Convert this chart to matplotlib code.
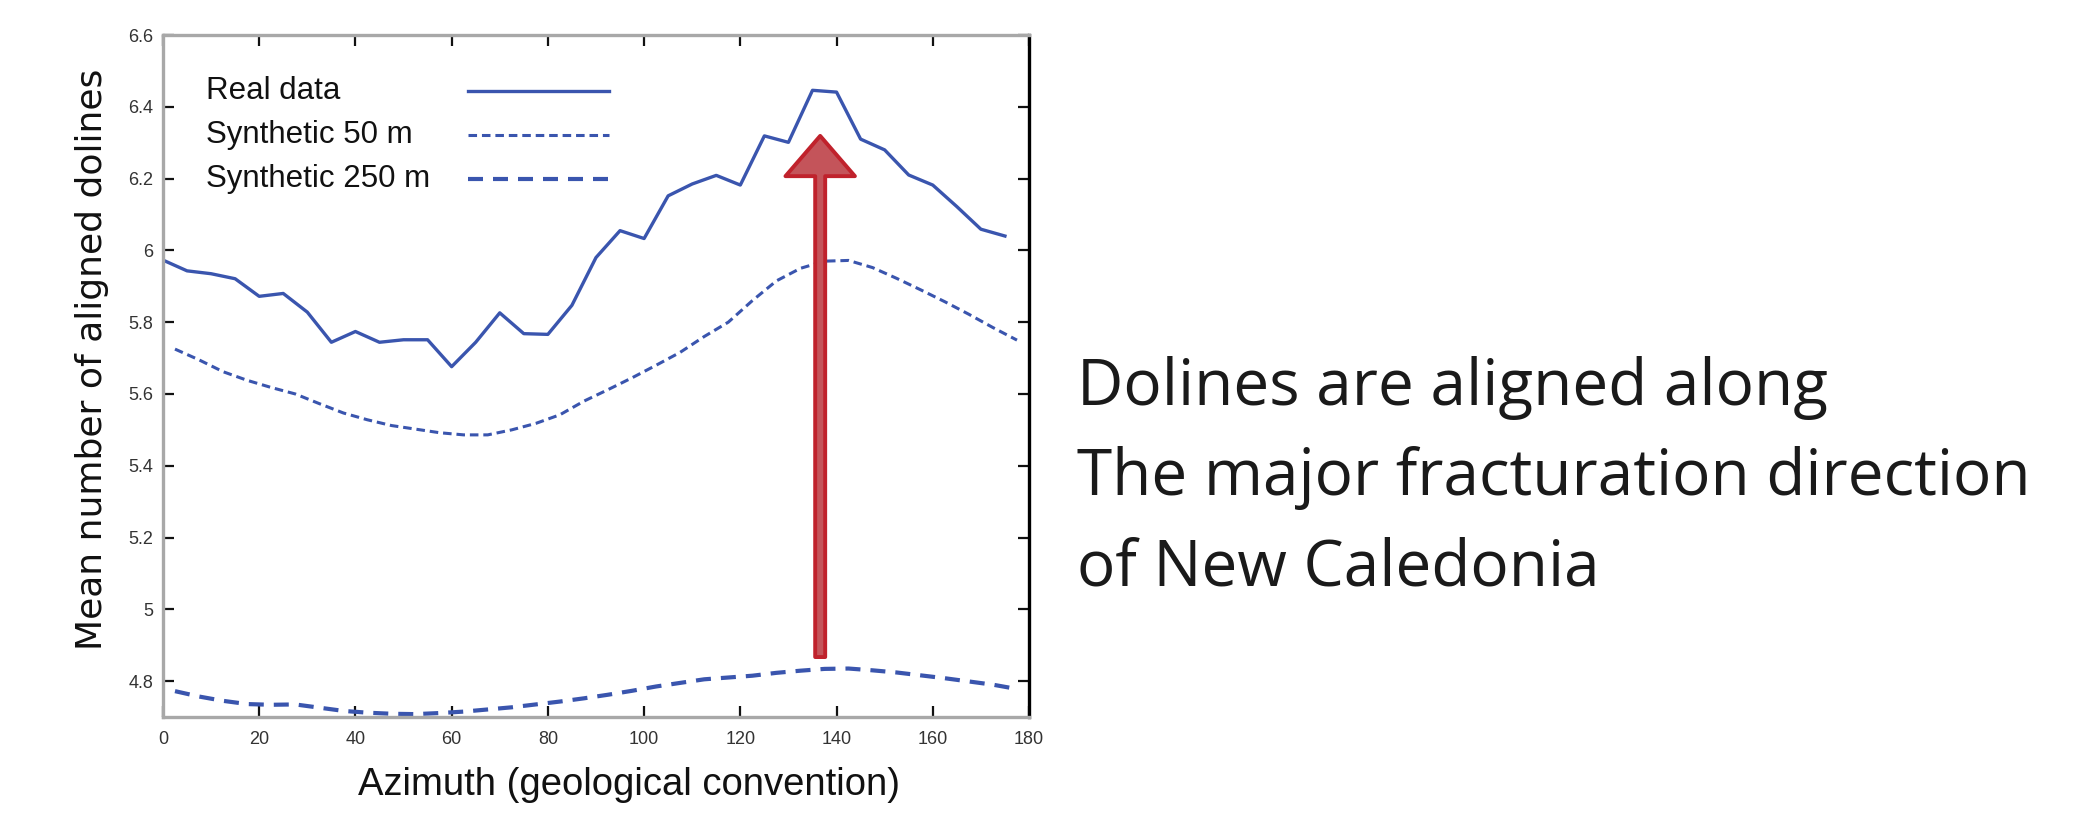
import matplotlib.pyplot as plt
import numpy as np

# ---- data ----
azimuth_real = [0, 5, 10, 15, 20, 25, 30, 35, 40, 45, 50, 55, 60, 65, 70, 75, 80, 85,
                90, 95, 100, 105, 110, 115, 120, 125, 130, 135, 140, 145, 150, 155, 160, 165, 170, 175]
real_data = [5.973, 5.943, 5.935, 5.921, 5.872, 5.880, 5.828, 5.744, 5.774, 5.744, 5.751, 5.751,
             5.676, 5.744, 5.826, 5.768, 5.766, 5.847, 5.980, 6.055, 6.033, 6.152, 6.185, 6.209,
             6.182, 6.319, 6.301, 6.446, 6.441, 6.310, 6.280, 6.210, 6.182, 6.122, 6.059, 6.040]

azimuth_synth = [2.5, 7.5, 12.5, 17.5, 22.5, 27.5, 32.5, 37.5, 42.5, 47.5, 52.5, 57.5,
                 62.5, 67.5, 72.5, 77.5, 82.5, 87.5, 92.5, 97.5, 102.5, 107.5, 112.5, 117.5,
                 122.5, 127.5, 132.5, 137.5, 142.5, 147.5, 152.5, 157.5, 162.5, 167.5, 172.5, 177.5]
synth_50 = [5.725, 5.695, 5.662, 5.638, 5.618, 5.600, 5.573, 5.547, 5.528, 5.512, 5.502, 5.492,
            5.486, 5.486, 5.500, 5.518, 5.542, 5.580, 5.612, 5.645, 5.680, 5.716, 5.760, 5.800,
            5.860, 5.915, 5.950, 5.970, 5.972, 5.952, 5.922, 5.890, 5.857, 5.822, 5.785, 5.750]
synth_250 = [4.772, 4.757, 4.745, 4.736, 4.734, 4.735, 4.726, 4.717, 4.712, 4.709, 4.708, 4.711,
             4.715, 4.721, 4.727, 4.735, 4.743, 4.752, 4.762, 4.773, 4.785, 4.795, 4.805, 4.810,
             4.815, 4.823, 4.829, 4.834, 4.835, 4.830, 4.824, 4.816, 4.808, 4.799, 4.790, 4.778]

x_ticks = [0, 20, 40, 60, 80, 100, 120, 140, 160, 180]
y_ticks = [4.8, 5.0, 5.2, 5.4, 5.6, 5.8, 6.0, 6.2, 6.4, 6.6]
y_tick_labels = ['4.8', '5', '5.2', '5.4', '5.6', '5.8', '6', '6.2', '6.4', '6.6']

legend_labels = ['Real data', 'Synthetic 50 m', 'Synthetic 250 m']

# arrow pointing at the main direction
arrow_azimuth = 136.6
arrow_from = 4.867
arrow_to = 6.319

note_lines = ['Dolines are aligned along',
              'The major fracturation direction',
              'of New Caledonia']

# ---- styles ----
blue = '#3a55ae'
narrow = ['Liberation Sans', 'DejaVu Sans']
styles = [dict(ls='-', lw=2.4),
          dict(ls=(0, (2.8, 1.6)), lw=2.2),
          dict(ls=(0, (3.6, 2.4)), lw=3.0)]

fig = plt.figure(figsize=(21, 8.38), dpi=100)
ax = fig.add_axes([0.0776, 0.1444, 0.4124, 0.8138])

ax.plot(azimuth_real, real_data, color=blue, **styles[0])
ax.plot(azimuth_synth, synth_50, color=blue, **styles[1])
ax.plot(azimuth_synth, synth_250, color=blue, **styles[2])

ax.set_xlim(0, 180)
ax.set_ylim(4.7, 6.6)
ax.set_xticks(x_ticks)
ax.set_xticklabels([str(v) for v in x_ticks], family=narrow, fontsize=13, color='#333333')
ax.set_yticks(y_ticks)
ax.set_yticklabels(y_tick_labels, family=narrow, fontsize=13, color='#333333')
ax.tick_params(axis='both', direction='in', length=8, width=1.6, color='#111111',
               top=True, right=True)
ax.tick_params(axis='y', pad=7)
ax.tick_params(axis='x', pad=10)
for t in ax.yaxis.get_major_ticks():
    t.tick2line.set_color('#9a9a9a')

for side in ['top', 'left', 'bottom']:
    ax.spines[side].set_color('#a8a8a8')
    ax.spines[side].set_linewidth(2.4)
ax.spines['right'].set_color('black')
ax.spines['right'].set_linewidth(2.4)

ax.set_xlabel('Azimuth (geological convention)', family=narrow, fontsize=27.5, color='#111111')
ax.xaxis.set_label_coords(0.538, -0.074)
ax.set_ylabel('Mean number of aligned dolines', family='DejaVu Sans', fontsize=26, color='#111111')
ax.yaxis.set_label_coords(-0.062, 0.525)

# legend drawn as text + line samples, labels left and keys on the right
rows_y = [0.918, 0.853, 0.789]
for label, st, ry in zip(legend_labels, styles, rows_y):
    ax.text(0.0497, ry, label, transform=ax.transAxes, family=narrow, fontsize=22.5,
            va='center', ha='left', color='#111111')
    ax.plot([0.352, 0.515], [ry, ry], transform=ax.transAxes, color=blue, **st)

ax.annotate('', xy=(arrow_azimuth, arrow_to), xytext=(arrow_azimuth, arrow_from),
            arrowprops=dict(arrowstyle='simple,head_length=2.9,head_width=5.0,tail_width=0.72',
                            mutation_scale=10, fc='#c4545a', ec='#c0222c', lw=2.8,
                            shrinkA=0, shrinkB=0))

baselines = [0.5167, 0.4093, 0.3019]
for line, yb in zip(note_lines, baselines):
    fig.text(0.513, yb, line, family='Open Sans', fontsize=46, va='baseline', ha='left',
             color='#1a1a1a')

fig.savefig('out.png', dpi=100)
